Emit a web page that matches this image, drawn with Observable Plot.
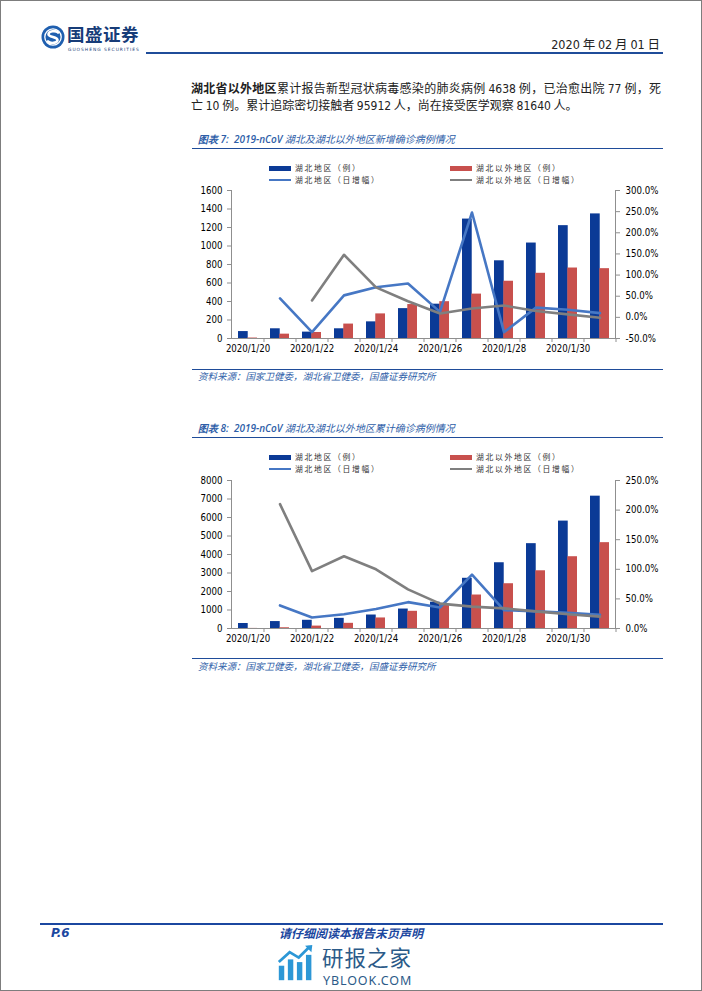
<!DOCTYPE html>
<html>
<head>
<meta charset="utf-8">
<script src="https://cdn.jsdelivr.net/npm/d3@7"></script>
<script src="https://cdn.jsdelivr.net/npm/@observablehq/plot@0.6"></script>
<style>
  html, body { margin: 0; padding: 0; background: #fff; }
  #page { position: relative; width: 702px; height: 991px; box-sizing: border-box; border: 1px solid #7d7d7d; overflow: hidden;
          font-family: "Noto Sans CJK SC", "DejaVu Sans", sans-serif; color: #222; }
  .abs { position: absolute; }
  .rule { position: absolute; background: #1F4C99; }
  .title { position: absolute; font-size: 10px; font-style: italic; color: #2E5EA8; white-space: nowrap; line-height: 13px; }
  .title b { font-family: "Open Sans", "DejaVu Sans", sans-serif; font-weight: 600; }
  .src { position: absolute; font-size: 9.5px; font-style: italic; color: #2E5EA8; white-space: nowrap; line-height: 12px; }
  .leg { position: absolute; font-size: 7.8px; color: #333; white-space: nowrap; letter-spacing: 1.7px; line-height: 11px; }
  .sw { display: inline-block; width: 22px; vertical-align: middle; margin-right: 4px; }
  .num { font-family: "DejaVu Sans Condensed", "Liberation Sans", sans-serif; }
  .chart { position: absolute; }
</style>
</head>
<body>
<div id="page">
  <!-- header -->
  <svg class="abs" style="left:38px;top:22px" width="30" height="30" viewBox="38 22 30 30">
    <circle cx="52" cy="36" r="11.5" fill="#1F5FAF"/>
    <circle cx="52" cy="36" r="8.2" fill="none" stroke="#fff" stroke-width="1.3"/>
    <path d="M57,31.5 C55,29.3 47.5,29.6 47.5,33.2 C47.5,36.6 56.5,35.4 56.5,39 C56.5,42.4 49.2,42.8 47,40.5" fill="none" stroke="#fff" stroke-width="2.6" stroke-linecap="round"/>
  </svg>
  <div class="abs" style="left:66px;top:23px;font-size:17.5px;font-weight:700;color:#173C78;line-height:19px;letter-spacing:0.5px;">国盛证券</div>
  <div class="abs" style="left:67px;top:45.5px;font-size:4.4px;color:#173C78;letter-spacing:1px;line-height:5px;font-family:'DejaVu Sans',sans-serif;">GUOSHENG SECURITIES</div>
  <div class="abs" style="right:41px;top:35px;font-size:12.5px;color:#222;white-space:nowrap;line-height:15px;"><span class="num">2020</span> 年 <span class="num">02</span> 月 <span class="num">01</span> 日</div>
  <div class="rule" style="left:145px;top:51px;width:517px;height:1.5px;"></div>

  <!-- paragraph -->
  <div class="abs" style="left:190px;top:79px;width:470px;font-size:12px;line-height:16px;color:#222;">
    <div style="text-align:justify;text-align-last:justify;white-space:nowrap;"><b>湖北省以外地区</b>累计报告新型冠状病毒感染的肺炎病例 <span class="num">4638</span> 例，已治愈出院 <span class="num">77</span> 例，死</div>
    <div>亡 <span class="num">10</span> 例。累计追踪密切接触者 <span class="num">95912</span> 人，尚在接受医学观察 <span class="num">81640</span> 人。</div>
  </div>

  <!-- chart 7 -->
  <div class="title" style="left:197px;top:131px;"><b>图表 7:&nbsp; 2019-nCoV</b> 湖北及湖北以外地区新增确诊病例情况</div>
  <div class="rule" style="left:191px;top:147px;width:471px;height:1.3px;"></div>
  <div class="leg" style="left:268px;top:161px;"><span class="sw" style="height:5px;background:#0B3A96"></span>湖北地区（例）</div>
  <div class="leg" style="left:268px;top:172.5px;"><span class="sw" style="height:2px;background:#4677C4"></span>湖北地区（日增幅）</div>
  <div class="leg" style="left:449px;top:161px;"><span class="sw" style="height:5px;background:#C8504D"></span>湖北以外地区（例）</div>
  <div class="leg" style="left:449px;top:172.5px;"><span class="sw" style="height:2px;background:#7F7F7F"></span>湖北以外地区（日增幅）</div>
  <div class="chart" id="chart1" style="left:180px;top:182px;"></div>
  <div class="rule" style="left:191px;top:367.5px;width:471px;height:1.3px;"></div>
  <div class="src" style="left:197px;top:369px;">资料来源：国家卫健委，湖北省卫健委，国盛证券研究所</div>

  <!-- chart 8 -->
  <div class="title" style="left:197px;top:419.5px;"><b>图表 8:&nbsp; 2019-nCoV</b> 湖北及湖北以外地区累计确诊病例情况</div>
  <div class="rule" style="left:191px;top:436px;width:471px;height:1.3px;"></div>
  <div class="leg" style="left:268px;top:450px;"><span class="sw" style="height:5px;background:#0B3A96"></span>湖北地区（例）</div>
  <div class="leg" style="left:268px;top:461.5px;"><span class="sw" style="height:2px;background:#4677C4"></span>湖北地区（日增幅）</div>
  <div class="leg" style="left:449px;top:450px;"><span class="sw" style="height:5px;background:#C8504D"></span>湖北以外地区（例）</div>
  <div class="leg" style="left:449px;top:461.5px;"><span class="sw" style="height:2px;background:#7F7F7F"></span>湖北以外地区（日增幅）</div>
  <div class="chart" id="chart2" style="left:180px;top:472px;"></div>
  <div class="rule" style="left:191px;top:656.5px;width:471px;height:1.3px;"></div>
  <div class="src" style="left:197px;top:659px;">资料来源：国家卫健委，湖北省卫健委，国盛证券研究所</div>

  <!-- footer -->
  <div class="rule" style="left:39px;top:922px;width:623px;height:2px;background:#1B47A0;"></div>
  <div class="abs" style="left:50px;top:925px;font-size:12px;font-weight:700;font-style:italic;color:#1B47A0;line-height:14px;font-family:'DejaVu Sans',sans-serif;">P.6</div>
  <div class="abs" style="left:278px;top:925px;font-size:12px;font-weight:700;font-style:italic;color:#1B47A0;white-space:nowrap;line-height:14px;">请仔细阅读本报告末页声明</div>
  <svg class="abs" style="left:275px;top:943px" width="40" height="38" viewBox="0 0 42 42">
    <rect x="2" y="24" width="6" height="16" fill="#2C97D6"/>
    <rect x="12" y="17" width="6" height="23" fill="#2C97D6"/>
    <rect x="22" y="20" width="6" height="20" fill="#2C97D6"/>
    <rect x="32" y="12" width="6" height="28" fill="#2C97D6"/>
    <path d="M2,20 L14,9 L24,15 L36,3" fill="none" stroke="#2C97D6" stroke-width="3"/>
    <path d="M31,2 L39,1 L38,9 Z" fill="#2C97D6"/>
  </svg>
  <div class="abs" style="left:321px;top:945px;font-size:21.5px;color:#2B5A88;white-space:nowrap;line-height:22px;letter-spacing:1px;">研报之家</div>
  <div class="abs" style="left:322px;top:973px;font-size:12.5px;color:#2B5A88;white-space:nowrap;letter-spacing:0.9px;line-height:13px;font-family:'Noto Sans','DejaVu Sans',sans-serif;">YBLOOK.COM</div>
</div>

<script>
// ---------- data ----------
const dates = ["2020/1/20","2020/1/21","2020/1/22","2020/1/23","2020/1/24","2020/1/25",
               "2020/1/26","2020/1/27","2020/1/28","2020/1/29","2020/1/30","2020/1/31"];
const dateTicks = ["2020/1/20","2020/1/22","2020/1/24","2020/1/26","2020/1/28","2020/1/30"];

// chart 7: daily new confirmed cases
const hubeiNew = [75, 105, 69, 105, 180, 323, 371, 1291, 840, 1032, 1220, 1347];
const outsideNew = [5, 47, 65, 156, 266, 367, 398, 480, 619, 705, 762, 755];
const hubeiNewGrowth = [null, 45, -35, 52, 71, 80, 13, 248, -35, 23, 18, 10];     // %
const outsideNewGrowth = [null, null, 40, 148, 71, 38, 9, 21, 28, 15, 7, -1];     // %
const leftTicks1 = [0, 200, 400, 600, 800, 1000, 1200, 1400, 1600];
const rightTicks1 = [-50, 0, 50, 100, 150, 200, 250, 300];

// chart 8: cumulative confirmed cases
const hubeiCum = [270, 375, 444, 549, 729, 1052, 1423, 2714, 3554, 4586, 5806, 7153];
const outsideCum = [5, 40, 130, 280, 570, 930, 1330, 1810, 2420, 3120, 3880, 4640];
const hubeiCumGrowth = [null, 39, 18.5, 24, 33, 44.5, 35.5, 91, 31, 29, 26.6, 23.2];   // %
const outsideCumGrowth = [null, 210, 97, 122, 100, 66, 42, 37, 34, 29, 24, 20];         // %
const leftTicks2 = [0, 1000, 2000, 3000, 4000, 5000, 6000, 7000, 8000];
const rightTicks2 = [0, 50, 100, 150, 200, 250];

// ---------- styles ----------
const BLUE = "#0B3A96", RED = "#C8504D", LBLUE = "#4677C4", GREY = "#7F7F7F", AXIS = "#8F8F8F";
const FONT = "'DejaVu Sans Condensed', 'Liberation Sans', sans-serif";

function dualChart({barsA, barsB, lineA, lineB, leftTicks, rightTicks}) {
  const W = 480, H = 180, ml = 50, mr = 46, mt = 7, mb = 25;
  const leftMax = leftTicks[leftTicks.length - 1];
  const rMin = rightTicks[0], rMax = rightTicks[rightTicks.length - 1];
  const step = (W - ml - mr) / dates.length;
  const pin = 0.42;
  const bw = step * (1 - pin);
  const toLeft = p => p == null ? NaN : (p - rMin) / (rMax - rMin) * leftMax;
  const fromLeft = v => rMin + v / leftMax * (rMax - rMin);
  const rows = dates.map((d, i) => ({date: d, a: barsA[i], b: barsB[i], la: toLeft(lineA[i]), lb: toLeft(lineB[i])}));
  return Plot.plot({
    width: W, height: H, marginLeft: ml, marginRight: mr, marginTop: mt, marginBottom: mb,
    style: {fontFamily: FONT, fontSize: "9.6px", color: "#000", background: "transparent", overflow: "visible"},
    x: {type: "band", domain: dates, paddingInner: pin, paddingOuter: pin / 2, axis: null, label: null},
    y: {domain: [0, leftMax], axis: null, label: null},
    marks: [
      Plot.barY(rows, {x: "date", y: "a", fill: BLUE, insetRight: bw / 2}),
      Plot.barY(rows, {x: "date", y: "b", fill: RED, insetLeft: bw / 2}),
      Plot.line(rows, {x: "date", y: "la", stroke: LBLUE, strokeWidth: 2.6}),
      Plot.line(rows, {x: "date", y: "lb", stroke: GREY, strokeWidth: 2.6}),
      Plot.ruleY([0], {stroke: AXIS}),
      Plot.frame({anchor: "left", stroke: AXIS}),
      Plot.frame({anchor: "right", stroke: AXIS}),
      Plot.axisY({anchor: "left", ticks: leftTicks, tickSize: 4, tickPadding: 5, stroke: AXIS, label: null,
                  tickFormat: v => String(v)}),
      Plot.axisY({anchor: "right", ticks: rightTicks.map(toLeft), tickSize: 4, tickPadding: 6, stroke: AXIS, label: null,
                  tickFormat: v => (Math.round(fromLeft(v) * 10) / 10).toFixed(1) + "%"}),
      Plot.axisX({ticks: dateTicks, tickSize: 0, tickPadding: 7, label: null}),
      Plot.axisX({ticks: dates, tickSize: 4, tickFormat: () => "", dx: step / 2, stroke: AXIS, label: null})
    ]
  });
}

document.getElementById("chart1").append(dualChart({
  barsA: hubeiNew, barsB: outsideNew, lineA: hubeiNewGrowth, lineB: outsideNewGrowth,
  leftTicks: leftTicks1, rightTicks: rightTicks1
}));
document.getElementById("chart2").append(dualChart({
  barsA: hubeiCum, barsB: outsideCum, lineA: hubeiCumGrowth, lineB: outsideCumGrowth,
  leftTicks: leftTicks2, rightTicks: rightTicks2
}));
</script>
</body>
</html>
